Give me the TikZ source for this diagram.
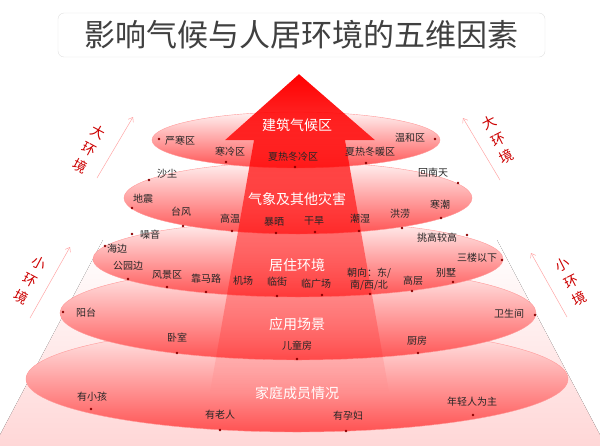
\documentclass[tikz,border=0pt]{standalone}
\usepackage{fontspec}
\newfontfamily\cjk{Noto Sans CJK SC}
\usetikzlibrary{arrows.meta,fadings}

\tikzfading[name=arrowfade, top color=transparent!0, middle color=transparent!10, bottom color=transparent!100]

\tikzset{
	titlebox/.style={draw=black!12, fill=white, rounded corners=6pt, minimum width=487pt, minimum height=44pt, font=\cjk\fontsize{31}{34}\selectfont, text=black!75},
	ring/.style={draw=red!40, line width=0.4pt, top color=red!5, bottom color=red!68},
	factor/.style={font=\cjk\fontsize{10}{12}\selectfont, text=black!85, inner sep=0pt, align=center},
	ringname/.style={font=\cjk\fontsize{14}{16}\selectfont, text=white, inner sep=0pt},
	spot/.style={circle, fill=red!55!black, inner sep=0pt, minimum size=2.6pt},
	envlbl/.style={font=\cjk\fontsize{14}{19}\selectfont, text=red!80!black, align=center, inner sep=0pt},
	envarrow/.style={draw=red!35, line width=0.5pt, -{Straight Barb[length=4pt,width=6pt]}}
}

\begin{document}
\begin{tikzpicture}[x=1pt,y=-1pt]
	\useasboundingbox (0,0) rectangle (600,445);
	\clip (0,0) rectangle (600,445);
	% title
	\node[titlebox] (title) at (301.5,35) {影响气候与人居环境的五维因素};
	% pale cone behind the rings
	\fill[top color=white, bottom color=red!16] (103,240) -- (497,240) -- (608,450) -- (-8,450) -- cycle;
	% rings, lowest first
	\draw[ring] (297,379) ellipse [x radius=271pt, y radius=53pt];
	\draw[ring] (298,313) ellipse [x radius=238pt, y radius=47pt];
	\draw[ring] (298,259) ellipse [x radius=205pt, y radius=38pt];
	\draw[ring] (298,198) ellipse [x radius=174pt, y radius=36pt];
	\draw[ring] (296,140) ellipse [x radius=144pt, y radius=28pt];
	% big arrow, fading out downwards
	\fill[red, path fading=arrowfade] (299,74) -- (375,140) -- (345,140) -- (389,392) -- (210,392) -- (254,140) -- (225,140) -- cycle;
	% side hints
	\coordinate (lu0) at (97,178);  \coordinate (lu1) at (133,117);
	\coordinate (ll0) at (30,318);  \coordinate (ll1) at (70,247);
	\coordinate (ru0) at (500,180); \coordinate (ru1) at (463,118);
	\coordinate (rl0) at (567,317); \coordinate (rl1) at (531,253);
	\draw[envarrow] (lu0) -- (lu1);
	\draw[envarrow] (ll0) -- (ll1);
	\draw[envarrow] (ru0) -- (ru1);
	\draw[envarrow] (rl0) -- (rl1);
	\node[envlbl, rotate=-28] (bigl) at (89,149) {大\\环\\境};
	\node[envlbl, rotate=-28] (smalll) at (30,280) {小\\环\\境};
	\node[envlbl, rotate=27] (bigr) at (498,140) {大\\环\\境};
	\node[envlbl, rotate=27] (smallr) at (571,282) {小\\环\\境};
	% ring 1
	\node[ringname] (climate) at (297,125) {建筑气候区};
	\node[factor] (yanhan) at (180,141) {严寒区};   \node[spot] (yanhan-d) at (159,139) {};
	\node[factor] (hanleng) at (230,152) {寒冷区};  \node[spot] (hanleng-d) at (226,162) {};
	\node[factor] (xrdl) at (293,157) {夏热冬冷区}; \node[spot] (xrdl-d) at (295,167) {};
	\node[factor] (xrdn) at (370,152) {夏热冬暖区}; \node[spot] (xrdn-d) at (366,163) {};
	\node[factor] (wenhe) at (410,138) {温和区};    \node[spot] (wenhe-d) at (435,139) {};
	% ring 2
	\node[ringname] (disaster) at (297,199) {气象及其他灾害};
	\node[factor] (shachen) at (167,174) {沙尘};  \node[spot] (shachen-d) at (149,180) {};
	\node[factor] (dizhen) at (143,199) {地震};   \node[spot] (dizhen-d) at (132,208) {};
	\node[factor] (taifeng) at (181,212) {台风};  \node[spot] (taifeng-d) at (183,226) {};
	\node[factor] (gaowen) at (230,219) {高温};   \node[spot] (gaowen-d) at (232,231) {};
	\node[factor] (baoshai) at (274,222) {暴晒};  \node[spot] (baoshai-d) at (276,233) {};
	\node[factor] (ganhan) at (314,221) {干旱};   \node[spot] (ganhan-d) at (315,232) {};
	\node[factor] (chaoshi) at (360,219) {潮湿};  \node[spot] (chaoshi-d) at (359,231) {};
	\node[factor] (honglao) at (400,214) {洪涝};  \node[spot] (honglao-d) at (402,228) {};
	\node[factor] (hanchao) at (440,205) {寒潮};  \node[spot] (hanchao-d) at (441,218) {};
	\node[factor] (huinan) at (433,173) {回南天}; \node[spot] (huinan-d) at (458,183) {};
	% ring 3
	\node[ringname] (living) at (297,265) {居住环境};
	\node[factor] (zaoyin) at (150,235) {噪音};     \node[spot] (zaoyin-d) at (132,234) {};
	\node[factor] (haibian) at (117,249) {海边};    \node[spot] (haibian-d) at (105,246) {};
	\node[factor] (gongyuan) at (128,266) {公园边}; \node[spot] (gongyuan-d) at (128,279) {};
	\node[factor] (fengjing) at (167,275) {风景区}; \node[spot] (fengjing-d) at (167,287) {};
	\node[factor] (malu) at (206,279) {靠马路};     \node[spot] (malu-d) at (206,292) {};
	\node[factor] (jichang) at (243,281) {机场};
	\node[factor] (linjie) at (277,282) {临街};     \node[spot] (linjie-d) at (277,296) {};
	\node[factor] (guangchang) at (316,284) {临广场}; \node[spot] (guangchang-d) at (322,295) {};
	\node[factor] (chaoxiang) at (369,279) {朝向：东/\\南/西/北}; \node[spot] (chaoxiang-d) at (370,294) {};
	\node[factor] (gaoceng) at (413,281) {高层};    \node[spot] (gaoceng-d) at (412,291) {};
	\node[factor] (bieshu) at (446,273) {别墅};     \node[spot] (bieshu-d) at (453,282) {};
	\node[factor] (sanlou) at (477,258) {三楼以下}; \node[spot] (sanlou-d) at (502,260) {};
	\node[factor] (tiaogao) at (437,238) {挑高较高}; \node[spot] (tiaogao-d) at (467,235) {};
	% ring 4
	\node[ringname] (scene) at (297,324) {应用场景};
	\node[factor] (yangtai) at (86,313) {阳台};    \node[spot] (yangtai-d) at (63,312) {};
	\node[factor] (woshi) at (177,338) {卧室};     \node[spot] (woshi-d) at (177,353) {};
	\node[factor] (ertong) at (297,346) {儿童房};  \node[spot] (ertong-d) at (297,359) {};
	\node[factor] (chufang) at (417,341) {厨房};   \node[spot] (chufang-d) at (418,353) {};
	\node[factor] (weisheng) at (509,314) {卫生间}; \node[spot] (weisheng-d) at (535,315) {};
	% ring 5
	\node[ringname] (family) at (297,393) {家庭成员情况};
	\node[factor] (xiaohai) at (92,397) {有小孩};      \node[spot] (xiaohai-d) at (91,409) {};
	\node[factor] (laoren) at (220,415) {有老人};      \node[spot] (laoren-d) at (220,430) {};
	\node[factor] (yunfu) at (348,416) {有孕妇};       \node[spot] (yunfu-d) at (346,431) {};
	\node[factor] (nianqing) at (472,402) {年轻人为主}; \node[spot] (nianqing-d) at (473,415) {};
\end{tikzpicture}
\end{document}
